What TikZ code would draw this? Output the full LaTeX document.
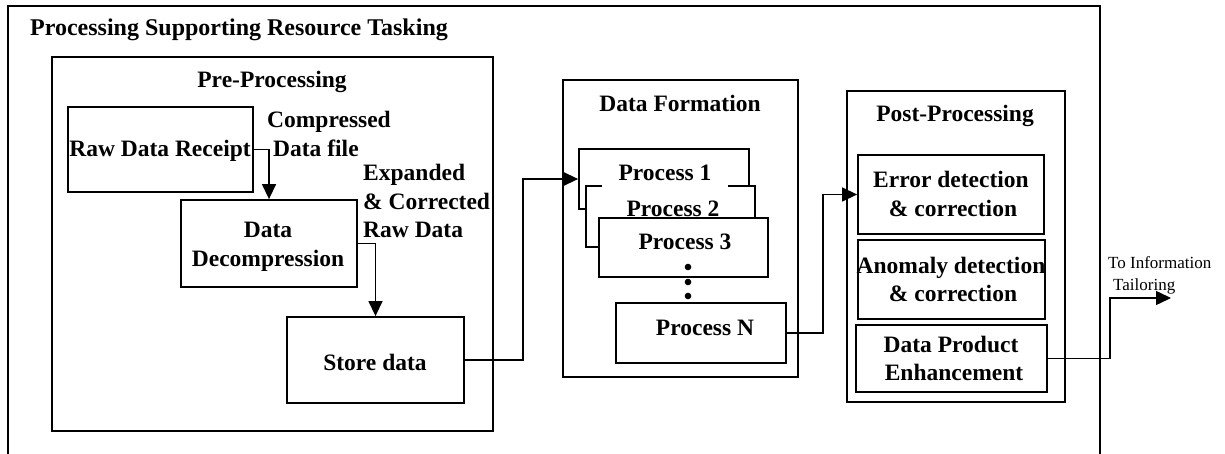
\documentclass[tikz,border=0pt]{standalone}
\usepackage{fontspec}
\setmainfont{Liberation Serif}
\usetikzlibrary{arrows.meta,fit}

\tikzset{
  frame/.style={draw, line width=1.8pt, inner sep=0pt},
  panel/.style={draw, line width=1.8pt, inner sep=0pt},
  stepbox/.style={draw, line width=1.8pt, inner sep=0pt, fill=white},
  lbl/.style={font=\fontsize{23.5}{29}\selectfont\bfseries, inner sep=0pt, align=center},
  lbll/.style={font=\fontsize{23.5}{29}\selectfont\bfseries, inner sep=0pt, align=left},
  note/.style={font=\fontsize{17}{21}\selectfont, inner sep=0pt, align=left},
  link/.style={draw, line width=1.4pt},
  arr/.style={link, -{Triangle[length=15pt,width=14pt]}},
}

\begin{document}
\begin{tikzpicture}[x=1pt, y=-1pt]
\useasboundingbox (0,0) rectangle (1225,454);

% outer frame (open towards the bottom edge)
\node[frame, fit={(8,6) (1100,480)}] (outer) {};
\node[lbl, anchor=base west, font=\fontsize{24}{29}\selectfont\bfseries] (outerT) at (30,36) {Processing Supporting Resource Tasking};

% ---------- Pre-Processing ----------
\node[panel, fit={(52,57) (493,431)}] (pre) {};
\node[lbl, anchor=base] (preT) at (272,88) {Pre-Processing};

\node[stepbox, fit={(68,107) (253,192)}] (raw) {};
\node[lbl, anchor=base] (rawT) at (160,157) {Raw Data Receipt};

\node[stepbox, fit={(181,200) (357,287)}] (decomp) {};
\node[lbl, anchor=base] (decompA) at (268,237) {Data};
\node[lbl, anchor=base] (decompB) at (268,266) {Decompression};

\node[stepbox, fit={(287,317) (464,403)}] (store) {};
\node[lbl, anchor=base] (storeT) at (375,370) {Store data};

\node[lbll, anchor=base west] (cmpA) at (267,128) {Compressed};
\node[lbll, anchor=base west] (cmpB) at (273,157) {Data file};

\node[lbll, anchor=base west] (expA) at (363,181) {Expanded};
\node[lbll, anchor=base west] (expB) at (363,210) {\& Corrected};
\node[lbll, anchor=base west] (expC) at (363,238) {Raw Data};

% ---------- Data Formation ----------
\node[panel, fit={(563,80) (798,377)}] (df) {};
\node[lbl, anchor=base] (dfT) at (680,112) {Data Formation};

\node[stepbox, fit={(579,149) (749,209)}] (p1) {};
\node[stepbox, fit={(586,186) (755,247)}] (p2) {};
\node[lbl, anchor=base] (p2T) at (673,217) {Process 2};
\node[stepbox, fit={(599,218) (768,277)}] (p3) {};
\node[lbl, anchor=base] (p3T) at (685,250) {Process 3};
\node[lbl, anchor=base, fill=white, inner xsep=16.5pt, inner ysep=8pt] (p1T) at (665,181) {Process 1};

\fill (688,267) circle (3.3pt) (688,282) circle (3.3pt) (688,296) circle (3.3pt);

\node[stepbox, fit={(616,303) (786,363)}] (pn) {};
\node[lbl, anchor=base] (pnT) at (705,335) {Process N};

% ---------- Post-Processing ----------
\node[panel, fit={(847,91) (1065,402)}] (post) {};
\node[lbl, anchor=base] (postT) at (955,122) {Post-Processing};

\node[stepbox, fit={(858,155) (1044,234)}] (err) {};
\node[lbl, anchor=base] (errA) at (951,188) {Error detection};
\node[lbl, anchor=base] (errB) at (953,217) {\& correction};

\node[stepbox, fit={(858,240) (1045,319)}] (anom) {};
\node[lbl, anchor=base] (anomA) at (951,273) {Anomaly detection};
\node[lbl, anchor=base] (anomB) at (953,301) {\& correction};

\node[stepbox, fit={(856,325) (1047,392)}] (dpe) {};
\node[lbl, anchor=base] (dpeA) at (951,352) {Data Product};
\node[lbl, anchor=base] (dpeB) at (954,380) {Enhancement};

\node[note, anchor=base west] (outA) at (1108,269) {To Information};
\node[note, anchor=base west] (outB) at (1113,290) {Tailoring};
\coordinate (out) at (1171,298);

% ---------- connectors ----------
\draw[arr] (raw.east) -| (decomp.north);
\draw[arr] (decomp.east) -| (store.north);
\draw[arr] (store.east) -- ++(58,0) |- (p1.west);
\draw[arr] (pn.east) -- ++(36,0) |- (err.west);
\draw[arr] (dpe.east) -- ++(62,0) |- (out);
\end{tikzpicture}
\end{document}
